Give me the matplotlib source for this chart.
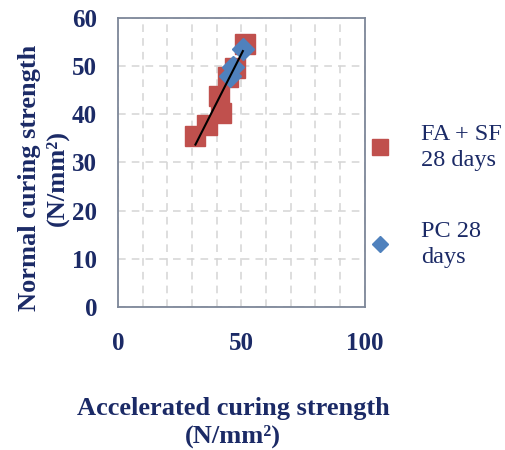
import matplotlib.pyplot as plt
import numpy as np
from matplotlib.lines import Line2D

# Data
fa_sf_accel = [31.4, 36.0, 41.0, 41.7, 44.6, 47.4, 51.4]
fa_sf_normal = [35.4, 37.8, 43.8, 40.2, 47.8, 49.6, 54.6]
pc_accel = [45.3, 46.6, 50.6]
pc_normal = [48.0, 49.8, 53.5]

x_ticks = [0, 50, 100]
y_ticks = [0, 10, 20, 30, 40, 50, 60]

navy = "#1b2a66"
plt.rcParams["font.family"] = ["Liberation Serif", "DejaVu Serif"]

fig = plt.figure(figsize=(5.06, 4.5), dpi=100)
ax = fig.add_axes([0.233, 0.318, 0.488, 0.642])

ax.plot(fa_sf_accel, fa_sf_normal, "s", color="#c0504d", markersize=14.5, zorder=3)
ax.plot(pc_accel, pc_normal, "D", color="#4f81bd", markersize=11, zorder=4)

# Linear trendline
all_x = np.array(fa_sf_accel + pc_accel)
all_y = np.array(fa_sf_normal + pc_normal)
k, b = np.polyfit(all_x, all_y, 1)
tx = np.array([min(fa_sf_accel), max(pc_accel)])
ax.plot(tx, k * tx + b, color="black", linewidth=1.5, zorder=5)

ax.set_xlim(0, 100)
ax.set_ylim(0, 60)
ax.set_xticks(x_ticks)
ax.set_yticks(y_ticks)
ax.set_xticks(np.arange(0, 101, 10), minor=True)
ax.set_yticks(np.arange(0, 61, 10), minor=True)
ax.grid(True, which="both", linestyle=(0, (5, 4)), color="#d4d4d4", linewidth=1.1)
ax.set_axisbelow(True)
ax.tick_params(which="both", length=0, labelsize=18, labelcolor=navy)
ax.tick_params(axis="x", pad=18)
ax.tick_params(axis="y", pad=15)
for lab in ax.get_xticklabels() + ax.get_yticklabels():
    lab.set_fontweight("bold")
for s in ax.spines.values():
    s.set_color("#7d8799")
    s.set_linewidth(1.3)

ax.set_xlabel("Accelerated curing strength\n(N/mm²)", fontsize=19,
              fontweight="bold", color=navy, linespacing=1.25)
ax.set_ylabel("Normal curing strength\n(N/mm²)", fontsize=19,
              fontweight="bold", color=navy, linespacing=1.2)
ax.xaxis.set_label_coords(0.466, -0.312)
ax.yaxis.set_label_coords(-0.2, 0.446)

handles = [
    Line2D([], [], marker="s", color="#c0504d", linestyle="none", markersize=11),
    Line2D([], [], marker="D", color="#4f81bd", linestyle="none", markersize=8),
]
leg = ax.legend(handles, ["FA + SF\n28 days", "PC 28\ndays"], loc="center left",
                bbox_to_anchor=(0.923, 0.385), frameon=False, fontsize=17.5,
                labelspacing=2.07, handletextpad=1.2, handlelength=1.0)
for t in leg.get_texts():
    t.set_color(navy)
    t.set_linespacing(1.3)

fig.savefig("out.png", dpi=100)
